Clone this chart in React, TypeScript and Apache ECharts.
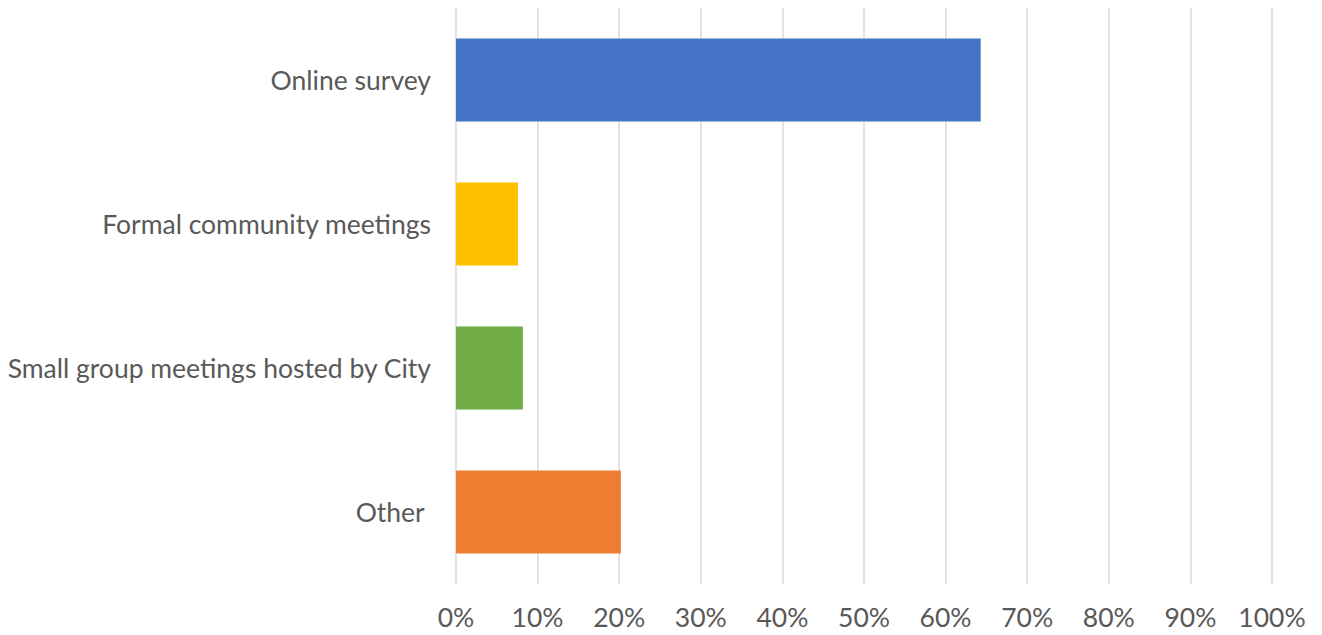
import React, { useEffect, useRef } from "react";
import * as echarts from "echarts";

const categories = ["Online survey", "Formal community meetings", "Small group meetings hosted by City", "Other "];
const values = [64.3, 7.6, 8.2, 20.2];
const barColors = ["#4472C4", "#FFC000", "#70AD47", "#ED7D31"];
const xTicks = [0, 10, 20, 30, 40, 50, 60, 70, 80, 90, 100];

export default function App() {
  const ref = useRef<HTMLDivElement>(null);
  useEffect(() => {
    if (!ref.current) return;
    const chart = echarts.init(ref.current, undefined, { renderer: "svg" });
    chart.setOption({
      animation: false,
      backgroundColor: "#ffffff",
      textStyle: { fontFamily: "Lato" },
      grid: { left: 456, right: 50, top: 8, bottom: 51, containLabel: false },
      xAxis: {
        type: "value",
        min: xTicks[0],
        max: xTicks[xTicks.length - 1],
        interval: 10,
        axisLine: { show: false },
        axisTick: { show: false },
        splitLine: { show: true, lineStyle: { color: "#D9D9D9", width: 1.5 } },
        axisLabel: {
          formatter: (v: number) => v + "%",
          color: "#595959",
          fontSize: 26.5,
          fontFamily: "Lato",
          margin: 19,
        },
      },
      yAxis: {
        type: "category",
        data: categories,
        inverse: true,
        axisLine: { show: false },
        axisTick: { show: false },
        axisLabel: {
          color: "#595959",
          fontSize: 26.5,
          fontFamily: "Lato",
          margin: 25,
          padding: [0, 0, 4, 0],
        },
      },
      series: [
        {
          type: "bar",
          barWidth: 83,
          data: values.map((v, i) => ({ value: v, itemStyle: { color: barColors[i] } })),
        },
      ],
    });
    return () => chart.dispose();
  }, []);
  return <div ref={ref} style={{ position: "fixed", left: 0, top: 0, width: 1322, height: 635 }} />;
}
